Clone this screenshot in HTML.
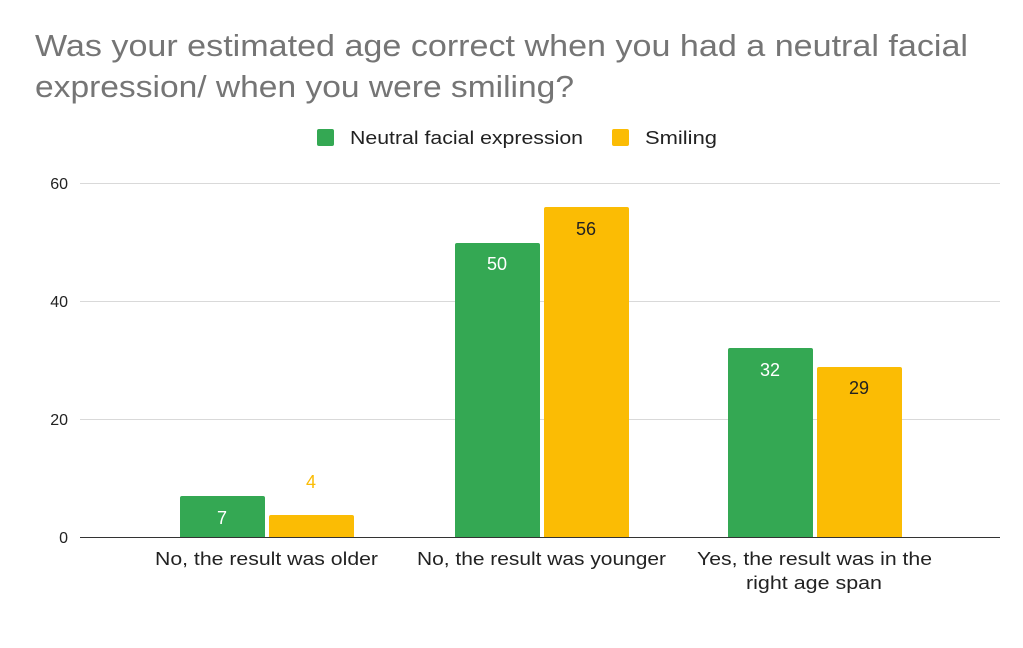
<!DOCTYPE html>
<html><head><meta charset="utf-8"><style>
body{margin:0;background:#fff;}
svg{display:block;font-family:"Liberation Sans",Arial,sans-serif;}
</style></head><body>
<svg width="1023" height="648" viewBox="0 0 1023 648">
<rect width="1023" height="648" fill="#fff"/>
<text x="35" y="56" font-size="31" fill="#757575" textLength="933" lengthAdjust="spacingAndGlyphs">Was your estimated age correct when you had a neutral facial</text>
<text x="35" y="97" font-size="31" fill="#757575" textLength="539" lengthAdjust="spacingAndGlyphs">expression/ when you were smiling?</text>
<rect x="317" y="129" width="17" height="17" rx="2" fill="#34a853"/>
<text x="350" y="144" font-size="18" fill="#222" textLength="233" lengthAdjust="spacingAndGlyphs">Neutral facial expression</text>
<rect x="612" y="129" width="17" height="17" rx="2" fill="#fbbc04"/>
<text x="645" y="144" font-size="18" fill="#222" textLength="72" lengthAdjust="spacingAndGlyphs">Smiling</text>
<g stroke="#d9d9d9" stroke-width="1">
<line x1="80" y1="183.5" x2="1000" y2="183.5"/>
<line x1="80" y1="301.5" x2="1000" y2="301.5"/>
<line x1="80" y1="419.5" x2="1000" y2="419.5"/>
</g>
<line x1="80" y1="537.5" x2="1000" y2="537.5" stroke="#333" stroke-width="1"/>
<g font-size="16" fill="#222" text-anchor="end">
<text x="68" y="189">60</text>
<text x="68" y="307">40</text>
<text x="68" y="425">20</text>
<text x="68" y="543">0</text>
</g>
<g>
<path d="M180,537V498a2,2 0 0 1 2,-2H263a2,2 0 0 1 2,2V537Z" fill="#34a853"/>
<path d="M269,537V517a2,2 0 0 1 2,-2H352a2,2 0 0 1 2,2V537Z" fill="#fbbc04"/>
<path d="M455,537V245a2,2 0 0 1 2,-2H538a2,2 0 0 1 2,2V537Z" fill="#34a853"/>
<path d="M544,537V209a2,2 0 0 1 2,-2H627a2,2 0 0 1 2,2V537Z" fill="#fbbc04"/>
<path d="M728,537V350a2,2 0 0 1 2,-2H811a2,2 0 0 1 2,2V537Z" fill="#34a853"/>
<path d="M817,537V369a2,2 0 0 1 2,-2H900a2,2 0 0 1 2,2V537Z" fill="#fbbc04"/>
</g>
<g font-size="18" text-anchor="middle">
<text x="222" y="524" fill="#fff">7</text>
<text x="311" y="488" fill="#fbbc04">4</text>
<text x="497" y="270" fill="#fff">50</text>
<text x="586" y="235" fill="#222">56</text>
<text x="770" y="376" fill="#fff">32</text>
<text x="859" y="394" fill="#222">29</text>
</g>
<g font-size="18" fill="#222">
<text x="155" y="565" textLength="223" lengthAdjust="spacingAndGlyphs">No, the result was older</text>
<text x="417" y="565" textLength="249" lengthAdjust="spacingAndGlyphs">No, the result was younger</text>
<text x="697" y="565" textLength="235" lengthAdjust="spacingAndGlyphs">Yes, the result was in the</text>
<text x="746" y="589" textLength="136" lengthAdjust="spacingAndGlyphs">right age span</text>
</g>
</svg>
</body></html>
